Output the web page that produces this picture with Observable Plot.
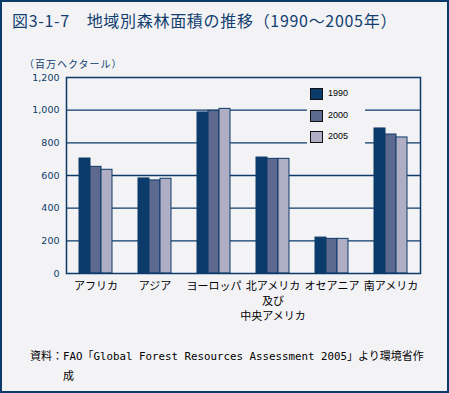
<!DOCTYPE html>
<html>
<head>
<meta charset="utf-8">
<script src="https://cdn.jsdelivr.net/npm/d3@7"></script>
<script src="https://cdn.jsdelivr.net/npm/@observablehq/plot@0.6"></script>
<style>
  html, body { margin: 0; padding: 0; background: #f3f3f6; }
  #page { position: relative; width: 449px; height: 393px; overflow: hidden; background: #f3f3f6; font-family: "Noto Sans CJK JP", sans-serif; }
  #border { position: absolute; left: 0; top: 0; width: 449px; height: 393px; box-sizing: border-box; border: 2px solid #0d3a68; pointer-events: none; }
  #title { position: absolute; left: 12px; top: 8px; font-size: 16px; letter-spacing: 0.7px; color: #123f70; white-space: nowrap; line-height: 24px; }
  #unit { position: absolute; left: 24px; top: 56px; font-size: 10px; letter-spacing: 1px; color: #123f70; white-space: nowrap; line-height: 16px; }
  #chart { position: absolute; left: 0; top: 60px; }
  #legend { position: absolute; left: 307px; top: 83px; width: 58px; height: 65px; background: #f3f3f6; }
  .item { position: absolute; left: 3px; height: 12px; }
  .sw { position: absolute; left: 0; top: 0; width: 11px; height: 10px; border: 1px solid #111; }
  .lt { position: absolute; left: 18px; top: -2px; font-family: "Liberation Sans", Arial, sans-serif; font-size: 9px; line-height: 14px; color: #000; }
  #caption { position: absolute; left: 30px; top: 346px; font-size: 11px; color: #000; line-height: 18px; white-space: nowrap; }
  #caption .mono { font-family: "DejaVu Sans Mono", "Noto Sans CJK JP", monospace; font-size: 10.8px; }
</style>
</head>
<body>
<div id="page">
  <div id="title">図3-1-7　地域別森林面積の推移（1990〜2005年）</div>
  <div id="unit">（百万ヘクタール）</div>
  <div id="chart"></div>
  <div id="legend"></div>
  <div id="caption"><div>資料：<span class="mono">FAO</span>「<span class="mono">Global Forest Resources Assessment 2005</span>」より環境省作</div><div style="margin-left:33px">成</div></div>
  <div id="border"></div>
</div>
<script>
const regions = ["アフリカ", "アジア", "ヨーロッパ", "北アメリカ\n及び\n中央アメリカ", "オセアニア", "南アメリカ"];
const years = ["1990", "2000", "2005"];
const v1990 = [704, 582, 986, 710, 220, 888];
const v2000 = [653, 570, 996, 702, 212, 851];
const v2005 = [635, 580, 1008, 702, 212, 833];
const yTicks = [0, 200, 400, 600, 800, 1000, 1200];
const colors = ["#0b3b6b", "#5e6990", "#b0aec5"];

const navy = "#0d3a68";
const series = [v1990, v2000, v2005];
const data = regions.flatMap((r, i) => years.map((y, j) => ({region: r, year: y, value: series[j][i]})));

const chart = Plot.plot({
  width: 449,
  height: 278,
  marginTop: 17,
  marginBottom: 65,
  marginLeft: 65,
  marginRight: 29,
  style: {background: "transparent", fontFamily: "'Noto Sans CJK JP', sans-serif", overflow: "visible"},
  fx: {domain: regions, padding: 0, label: null, axis: null},
  x: {domain: years, paddingInner: 0, paddingOuter: 0.965, axis: null},
  y: {domain: [0, 1200], label: null, axis: null},
  color: {domain: years, range: colors},
  marks: [
    Plot.gridY(yTicks.slice(1, -1), {stroke: navy, strokeOpacity: 1, strokeWidth: 1.3}),
    Plot.barY(data, {fx: "region", x: "year", y: "value", fill: "year", stroke: navy, strokeWidth: 1}),
    Plot.frame({facet: "super", stroke: navy, strokeWidth: 1.5}),
    Plot.axisY(yTicks, {tickSize: 0, tickPadding: 7, tickFormat: d3.format(","), fill: navy, fontSize: 9.5, fontFamily: "'DejaVu Sans', sans-serif"}),
    Plot.axisFx({anchor: "bottom", tickSize: 0, tickPadding: 6, lineHeight: 1.36, fontSize: 11, fill: "#000", label: null})
  ]
});
document.getElementById("chart").appendChild(chart);

const legend = document.getElementById("legend");
years.forEach((y, j) => {
  const item = document.createElement("div");
  item.className = "item";
  item.style.top = (5 + j * 21.7) + "px";
  item.innerHTML = `<div class="sw" style="background:${colors[j]}"></div><div class="lt">${y}</div>`;
  legend.appendChild(item);
});
</script>
</body>
</html>
